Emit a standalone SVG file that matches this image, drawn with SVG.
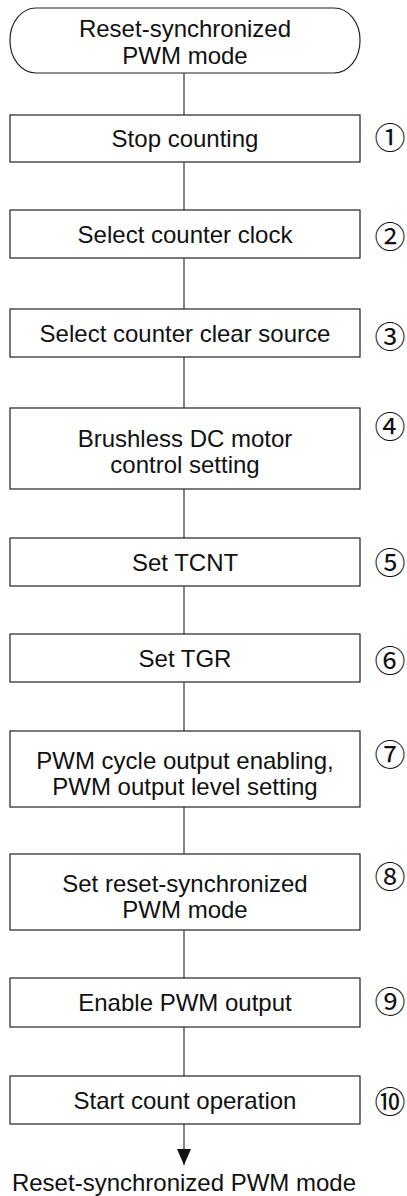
<svg xmlns="http://www.w3.org/2000/svg" width="407" height="1196" viewBox="0 0 407 1196">
<style>
.box{fill:#fff;stroke:#222;stroke-width:1.2}
.t{font-family:"Liberation Sans",Arial,sans-serif;font-size:24px;fill:#111;text-anchor:middle}
.n{font-family:"Noto Sans CJK JP","DejaVu Sans",sans-serif;font-size:31px;fill:#111;text-anchor:middle}
.c{stroke:#333;stroke-width:1.2;fill:none}
</style>
<defs>
<marker id="arr" markerUnits="userSpaceOnUse" viewBox="0 0 16 14" refX="16" refY="7" markerWidth="16" markerHeight="14" orient="auto">
<path d="M0,0 L16,7 L0,14 z" fill="#111"/>
</marker>
</defs>
<g id="connectors">
<line class="c" x1="184" y1="73" x2="184" y2="115"/>
<line class="c" x1="184" y1="162" x2="184" y2="210"/>
<line class="c" x1="184" y1="258" x2="184" y2="309"/>
<line class="c" x1="184" y1="357" x2="184" y2="408"/>
<line class="c" x1="184" y1="489" x2="184" y2="538"/>
<line class="c" x1="184" y1="586" x2="184" y2="634"/>
<line class="c" x1="184" y1="682" x2="184" y2="731"/>
<line class="c" x1="184" y1="807" x2="184" y2="854"/>
<line class="c" x1="184" y1="930" x2="184" y2="978"/>
<line class="c" x1="184" y1="1027" x2="184" y2="1076"/>
<line class="c" x1="184" y1="1124" x2="184" y2="1165" marker-end="url(#arr)"/>
</g>
<g id="start">
<rect class="box" x="10" y="8" width="350" height="65" rx="26" ry="32"/>
<text class="t" x="185" y="37">Reset-synchronized</text>
<text class="t" x="185" y="64">PWM mode</text>
</g>
<g id="step1">
<rect class="box" x="10" y="115" width="350" height="47"/>
<text class="t" x="185" y="147">Stop counting</text>
<text class="n" x="390" y="148.5">①</text>
</g>
<g id="step2">
<rect class="box" x="10" y="210" width="350" height="48"/>
<text class="t" x="185" y="243">Select counter clock</text>
<text class="n" x="390" y="247.5">②</text>
</g>
<g id="step3">
<rect class="box" x="10" y="309" width="350" height="48"/>
<text class="t" x="185" y="342">Select counter clear source</text>
<text class="n" x="390" y="347.5">③</text>
</g>
<g id="step4">
<rect class="box" x="10" y="408" width="350" height="81"/>
<text class="t" x="185" y="447">Brushless DC motor</text>
<text class="t" x="185" y="473">control setting</text>
<text class="n" x="390" y="437.5">④</text>
</g>
<g id="step5">
<rect class="box" x="10" y="538" width="350" height="48"/>
<text class="t" x="185" y="571">Set TCNT</text>
<text class="n" x="390" y="573.5">⑤</text>
</g>
<g id="step6">
<rect class="box" x="10" y="634" width="350" height="48"/>
<text class="t" x="185" y="667">Set TGR</text>
<text class="n" x="390" y="671.5">⑥</text>
</g>
<g id="step7">
<rect class="box" x="10" y="731" width="350" height="76"/>
<text class="t" x="185" y="769">PWM cycle output enabling,</text>
<text class="t" x="185" y="795">PWM output level setting</text>
<text class="n" x="390" y="765.5">⑦</text>
</g>
<g id="step8">
<rect class="box" x="10" y="854" width="350" height="76"/>
<text class="t" x="185" y="892">Set reset-synchronized</text>
<text class="t" x="185" y="918">PWM mode</text>
<text class="n" x="390" y="887.5">⑧</text>
</g>
<g id="step9">
<rect class="box" x="10" y="978" width="350" height="49"/>
<text class="t" x="185" y="1011">Enable PWM output</text>
<text class="n" x="390" y="1012.5">⑨</text>
</g>
<g id="step10">
<rect class="box" x="10" y="1076" width="350" height="48"/>
<text class="t" x="185" y="1109">Start count operation</text>
<text class="n" x="390" y="1112.5">⑩</text>
</g>
<g id="end">
<text class="t" x="184" y="1191">Reset-synchronized PWM mode</text>
</g>
</svg>
